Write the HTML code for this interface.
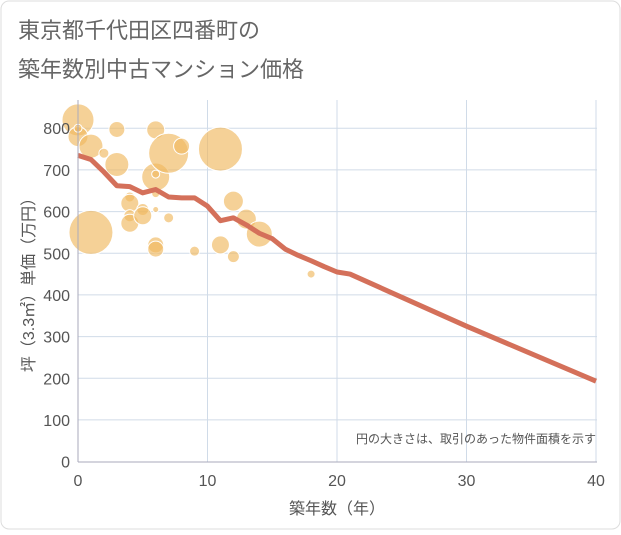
<!DOCTYPE html>
<html><head><meta charset="utf-8"><style>
body{margin:0;background:#fff}
svg text{font-family:"Liberation Sans","Noto Sans CJK JP",sans-serif}
</style></head><body>
<svg width="621" height="530" xmlns="http://www.w3.org/2000/svg">
<rect x="1" y="1" width="619" height="528" rx="8" fill="#fff" stroke="#ddd"/>
<text x="18" y="38" font-size="22" fill="#666">東京都千代田区四番町の</text>
<text x="18" y="77" font-size="22" fill="#666">築年数別中古マンション価格</text>
<g id="grid"></g><g id="bubbles"></g><g id="line"></g><g id="axes"></g>
<text x="596" y="443" font-size="12" fill="#555" text-anchor="end">円の大きさは、取引のあった物件面積を示す</text>
<text x="337" y="514" font-size="16" fill="#555" text-anchor="middle">築年数（年）</text>
<text transform="translate(34,281) rotate(-90)" font-size="16" fill="#555" text-anchor="middle">坪（3.3㎡）単価（万円）</text>
</svg>
<script>
const xTicks=[0,10,20,30,40];
const yTicks=[0,100,200,300,400,500,600,700,800];
const bubbleAge=[0,0,0,1,1,2,3,3,4,4,4,4,5,5,6,6,6,6,6,6,6,7,7,8,9,11,11,12,12,13,14,18];
const bubblePrice=[820,780,800,757,550,740,797,713,635,620,590,572,605,590,796,683,690,643,605,520,510,740,585,757,505,750,520,625,492,582,546,450];
const bubbleArea=[16,10,4,12,22,5,8,12,5,9,6,9,6,9,9,14,4,4,3,8,8,20,5,8,5,22,9,10,6,10,13,4];
const lineAge=[0,1,2,3,4,5,6,7,8,9,10,11,12,13,14,15,16,17,18,19,20,21,30,40];
const linePrice=[735,725,695,662,660,645,653,635,633,633,613,578,585,568,548,535,510,495,482,468,455,450,325,193];
const X=v=>78+v*12.95, Y=v=>461.6-v*0.4167;
const NS="http://www.w3.org/2000/svg";
function mk(t,a,p){const e=document.createElementNS(NS,t);for(const k in a)e.setAttribute(k,a[k]);p.appendChild(e);return e;}
const g=document.getElementById('grid'),b=document.getElementById('bubbles'),l=document.getElementById('line'),ax=document.getElementById('axes');
yTicks.forEach(v=>{if(v>0){const e=mk('line',{x1:78,x2:597,y1:Y(v),y2:Y(v),stroke:'#d0dbe8'},g);

}
const t=mk('text',{x:70,y:Y(v)+6,'font-size':16,fill:'#555','text-anchor':'end'},ax);t.textContent=v;

});
xTicks.forEach(v=>{if(v>0){const e=mk('line',{x1:X(v),x2:X(v),y1:100,y2:462,stroke:'#d0dbe8'},g);

}
const t=mk('text',{x:X(v),y:486,'font-size':16,fill:'#555','text-anchor':'middle'},ax);t.textContent=v;

});
const a1=mk('line',{x1:78,x2:78,y1:100,y2:462,stroke:'#aab'},ax);


const a2=mk('line',{x1:78,x2:597,y1:462,y2:462,stroke:'#aab'},ax);


bubbleAge.forEach((a,i)=>{const c=mk('circle',{cx:X(a),cy:Y(bubblePrice[i]),r:bubbleArea[i],fill:'#f0b860','fill-opacity':0.65,stroke:'#fff','stroke-width':1},b);

});
const p=mk('polyline',{points:lineAge.map((a,i)=>X(a)+','+Y(linePrice[i])).join(' '),fill:'none',stroke:'#d4705a','stroke-width':5,'stroke-linejoin':'round'},l);


</script>
</body></html>
